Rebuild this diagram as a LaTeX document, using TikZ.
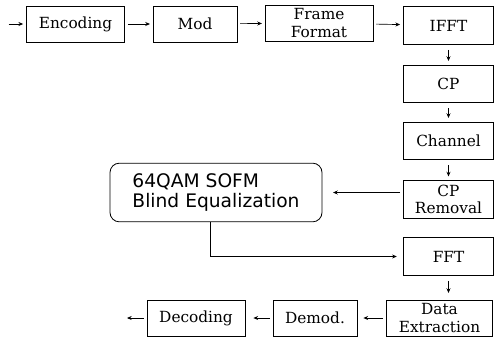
\documentclass[tikz,border=0pt]{standalone}
\usepackage{fontspec}
\setmainfont{DejaVu Serif}
\setsansfont{DejaVu Sans}
\usepackage{tikz}
\usetikzlibrary{arrows.meta}

\begin{document}
\begin{tikzpicture}[
  x=0.75pt, y=-0.75pt,
  blk/.style={rectangle, draw=black, line width=0.6pt, inner sep=0pt,
              minimum height=27pt, align=center,
              font=\fontsize{11.5}{13}\selectfont},
  col/.style={blk, minimum width=68pt, minimum height=28pt},
  sofm/.style={rectangle, rounded corners=7pt, draw=black, line width=0.6pt,
               minimum width=159pt, minimum height=44pt, align=left,
               font=\sffamily\fontsize{14}{15.5}\selectfont},
  arr/.style={-{Stealth[length=3.5pt,width=3pt]}, line width=0.5pt,
              shorten <=2pt, shorten >=2pt}
]
\useasboundingbox (0,0) rectangle (496,337);

% transmitter
\coordinate (in) at (6,24);
\node[blk, minimum width=74pt] (enc) at (75.5,24) {Encoding};
\node[blk, minimum width=63pt] (mod) at (195,24)  {Mod};
\node[blk, minimum width=81pt] (frm) at (319,23)  {Frame\\Format};

% right column
\node[col] (ifft) at (448.5,25.5) {IFFT};
\node[col] (cp)   at (448.5,84)   {CP};
\node[col] (chn)  at (448.5,141)  {Channel};
\node[col] (cpr)  at (448.5,199.5){CP\\Removal};
\node[col] (fft)  at (448.5,256.5){FFT};

\node[sofm] (eq) at (216,192.5) {64QAM SOFM\\Blind Equalization};

% receiver
\node[blk, minimum width=80pt] (dex) at (439.5,318) {Data\\Extraction};
\node[blk, minimum width=63pt] (dem) at (315,318)   {Demod.};
\node[blk, minimum width=73.5pt] (dec) at (196,318) {Decoding};
\coordinate (out) at (127,318);

\draw[arr] (in) -- (enc);
\draw[arr] (enc) -- (mod);
\draw[arr] (mod) -- (frm);
\draw[arr] (frm) -- (ifft);
\draw[arr, shorten <=4pt, shorten >=3pt] (ifft) -- (cp);
\draw[arr, shorten <=4pt, shorten >=3pt] (cp) -- (chn);
\draw[arr, shorten <=4pt, shorten >=3pt] (chn) -- (cpr);
\draw[arr, shorten >=8pt] (cpr.west |- eq.east) -- (eq.east);
\draw[arr, shorten <=0pt, shorten >=4.5pt] ([xshift=-4.5pt]eq.south) |- (fft);
\draw[arr, shorten <=4pt, shorten >=5pt] (fft.south) -- (fft.south |- dex.north);
\draw[arr, shorten >=4.5pt] (dex) -- (dem);
\draw[arr, shorten >=6pt] (dem) -- (dec);
\draw[arr, shorten >=0pt] (dec) -- (out);
\end{tikzpicture}
\end{document}
